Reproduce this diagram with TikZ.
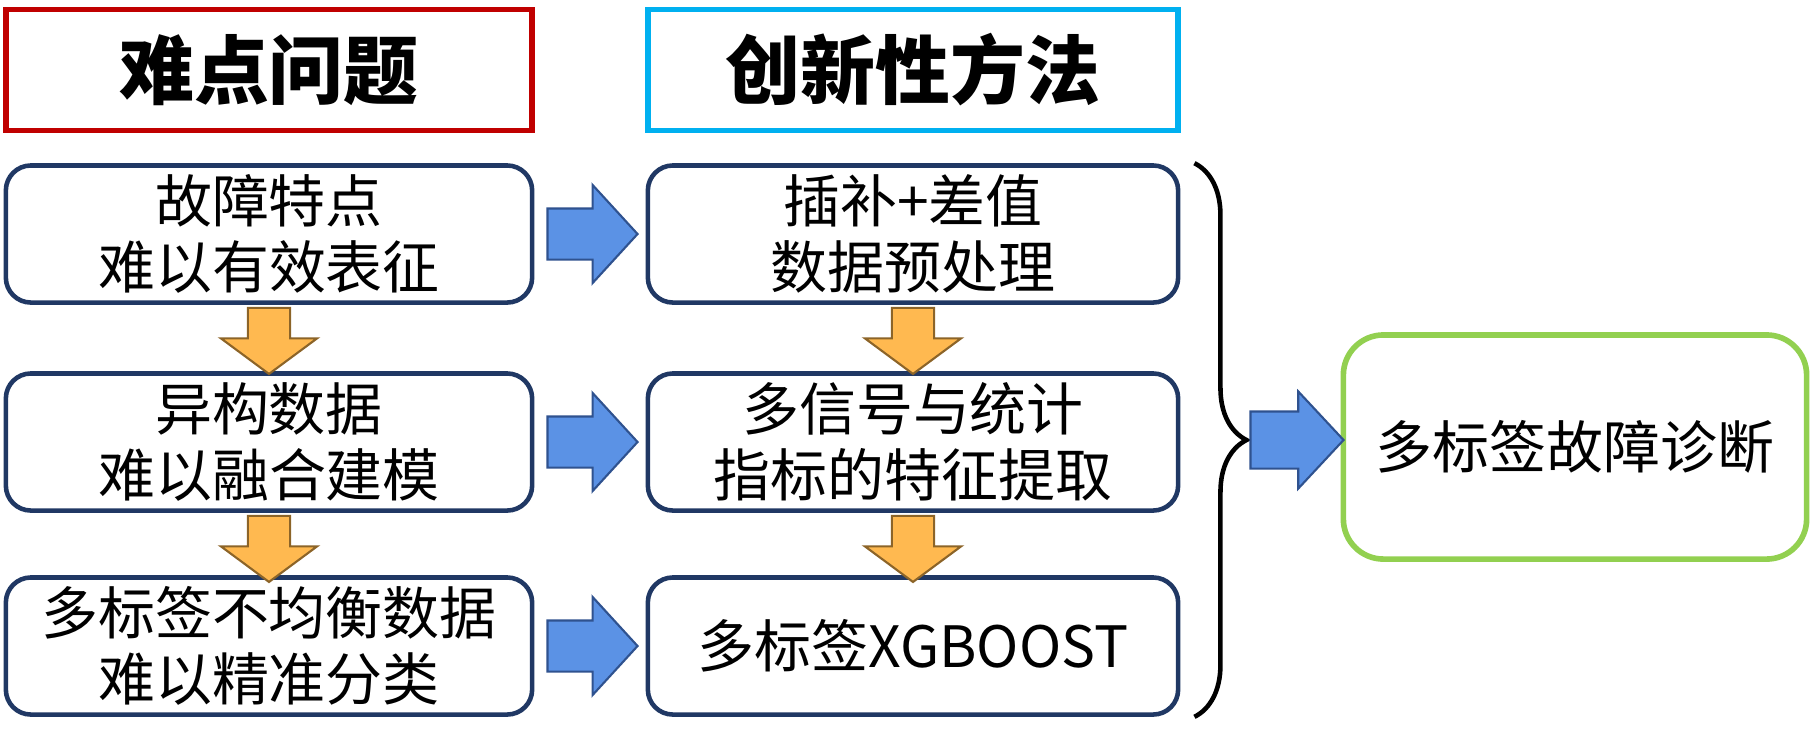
\documentclass[tikz,border=0pt]{standalone}
\usepackage{fontspec}
\usepackage{tikz}
\usetikzlibrary{shapes.arrows,decorations.pathreplacing,calc}
\newfontfamily\cjk{Noto Sans CJK SC}
\newfontfamily\cjkblack{Noto Sans CJK SC Black}
\definecolor{boxline}{RGB}{32,56,100}
\definecolor{titlered}{RGB}{192,0,0}
\definecolor{titlecyan}{RGB}{0,176,240}
\definecolor{arrblue}{RGB}{91,146,229}
\definecolor{arrblueline}{RGB}{47,82,143}
\definecolor{arrorange}{RGB}{255,185,80}
\definecolor{arrorangeline}{RGB}{140,100,40}
\definecolor{resgreen}{RGB}{146,208,80}
\newcommand{\boxw}{1.3pt}
\newcommand{\bodyfont}{\cjk\fontsize{16.2}{18.8}\selectfont}
\newcommand{\titlefont}{\cjkblack\fontsize{21.3}{24}\selectfont}

\begin{document}
\begin{tikzpicture}[x=0.01cm,y=-0.01cm]
            %\draw[help lines,step=100] (0,0) grid (1814,750);
            \useasboundingbox (0,0) rectangle (1814,750);
            \tikzset{titlebox/.style = {draw, line width=1.6pt, minimum height=1.21cm, font=\titlefont},
                     qbox/.style = {draw=boxline, line width=\boxw, rounded corners=0.25cm, minimum width=5.26cm,
                                    minimum height=1.37cm, align=center, font=\bodyfont, inner sep=0pt},
                     bluearr/.style = {single arrow, anchor=tail, draw=arrblueline, fill=arrblue, line width=0.6pt,
                                    inner xsep=0pt, inner ysep=0.245cm, minimum height=0.9cm,
                                    single arrow head extend=0.235cm, single arrow tip angle=95},
                     orarr/.style = {single arrow, anchor=tail, rotate=-90, draw=arrorangeline, fill=arrorange,
                                    line width=0.6pt, inner xsep=0pt, inner ysep=0.2cm, minimum height=0.66cm,
                                    single arrow head extend=0.27cm, single arrow tip angle=107}}
            % titles
            \node[titlebox, draw=titlered, minimum width=5.26cm] (tq) at (269,70) {难点问题};
            \node[titlebox, draw=titlecyan, minimum width=5.30cm] (tm) at (913,70) {创新性方法};
            % problems
            \node[qbox] (q1) at (269,234) {故障特点\\难以有效表征};
            \node[qbox] (q2) at (269,442) {异构数据\\难以融合建模};
            \node[qbox] (q3) at (269,646) {多标签不均衡数据\\难以精准分类};
            % methods
            \node[qbox, minimum width=5.30cm] (m1) at (913,234) {插补+差值\\数据预处理};
            \node[qbox, minimum width=5.30cm] (m2) at (913,442) {多信号与统计\\指标的特征提取};
            \node[qbox, minimum width=5.30cm] (m3) at (913,646) {多标签XGBOOST};
            % result
            \node[qbox, draw=resgreen, line width=1.6pt, rounded corners=0.4cm, minimum width=4.63cm,
                  minimum height=2.24cm] (res) at (1575,447) {多标签故障诊断};
            \foreach \i in {1,2,3}
                \node[bluearr] (b\i) at ($(q\i.east)+(12,0)$) {};
            \foreach \i in {1,2}{
                \node[orarr] (oq\i) at ($(q\i.south)+(0,2)$) {};
                \node[orarr] (om\i) at ($(m\i.south)+(0,2)$) {};
            }
            % brace
            \coordinate (bt) at ($(m1.north east)+(14,0)$);
            \coordinate (bb) at ($(m3.south east)+(14,0)$);
            \draw[line width=1.3pt, decorate, decoration={brace, amplitude=0.52cm}] (bt) -- (bb);
            \coordinate (tip) at ($(bt)!0.5!(bb)+(52,0)$);
            \node[bluearr, minimum height=0.93cm, inner ysep=0.275cm, single arrow head extend=0.2cm,
                  single arrow tip angle=94] (rb) at ($(tip)+(3,0)$) {};
        \end{tikzpicture}
\end{document}
